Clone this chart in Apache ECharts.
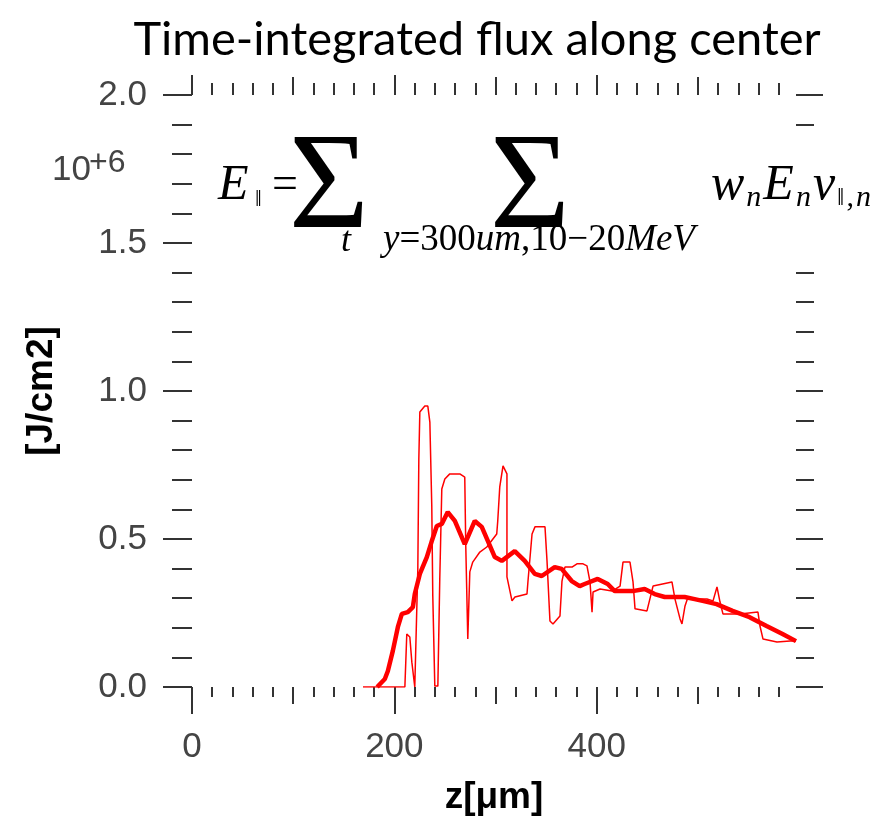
<!DOCTYPE html>
<html><head><meta charset="utf-8">
<script src="https://cdn.jsdelivr.net/npm/echarts@6/dist/echarts.min.js"></script>
<style>html,body{margin:0;padding:0;background:#fff}#c{width:876px;height:821px}</style>
</head><body><div id="c"></div>
<script>
// ---- data ----
const xMajorTicks = [0, 200, 400];
const xMidTicks = [100, 300, 500];
const xMinorTicks = [20,40,60,80,120,140,160,180,220,240,260,280,320,340,360,380,420,440,460,480,520,540,560,580];

const thinZ = [169,210.4,212.3,215.3,217.3,220.2,223.2,224.2,225.2,230.1,233.1,235.1,237,238,240,243,244.9,246.9,249.9,254.8,264.7,269.6,270.6,272.6,274.6,277.5,284.5,291.4,301.2,302.2,304.2,307.4,311.3,311.3,316.3,319.2,331.1,332.1,336.1,339,348.9,350.9,353.8,356.8,363.7,365.7,368.6,375.6,380.5,386.5,390.4,393.4,395.4,396.4,403.3,415.2,423.1,426,432.9,435.9,437.9,449.7,455.7,474.4,477.4,482.4,484.3,487.3,490.3,499.1,509,515,518.9,519.9,521.9,524.8,541.6,559.4,561.4,564.4,578.2,591.1,597];
const thinFlux = [0,0,0.179,0.169,0.084,0,0.399,0.770,0.929,0.949,0.949,0.895,0.611,0.307,0.003,0.003,0.365,0.669,0.703,0.720,0.720,0.709,0.476,0.162,0.389,0.422,0.456,0.473,0.517,0.561,0.676,0.747,0.720,0.372,0.291,0.304,0.314,0.358,0.517,0.541,0.541,0.426,0.223,0.213,0.240,0.358,0.405,0.405,0.416,0.416,0.409,0.355,0.253,0.321,0.331,0.324,0.341,0.422,0.422,0.355,0.264,0.257,0.341,0.355,0.297,0.230,0.213,0.274,0.304,0.297,0.297,0.291,0.338,0.341,0.287,0.247,0.247,0.253,0.206,0.162,0.152,0.155,0.155];

const thickZ = [183,190.6,193.6,198.5,203.5,207.4,213.3,218.3,220.2,225.2,232.1,237,242,246.9,252.8,259.8,269.6,279.5,286.4,299.3,306.2,319,328.9,338.8,345.7,358.5,365.4,375.3,383.2,388.1,401,410.9,417.8,435.6,447.4,457.3,467.2,486.9,496.8,504.7,518.5,534.3,551.1,567.9,583.7,597];
const thickFlux = [0,0.027,0.054,0.122,0.203,0.247,0.253,0.270,0.314,0.382,0.439,0.493,0.544,0.551,0.591,0.561,0.483,0.561,0.541,0.439,0.426,0.459,0.426,0.382,0.375,0.405,0.399,0.358,0.341,0.348,0.365,0.348,0.324,0.324,0.331,0.314,0.304,0.304,0.297,0.291,0.280,0.257,0.236,0.206,0.179,0.155];

const titleText = 'Time-integrated flux along center';
const xName = 'z[μm]';
const yName = '[J/cm2]';
const scaleText = ['10', '+6'];

// ---- chart ----
const chart = echarts.init(document.getElementById('c'), null, {renderer: 'canvas'});
const tickColor = '#333';
const XMIN = 0, XMAX = 597;

function xAx(pos, vals, len, withLabel) {
  return {
    type: 'value', position: pos, min: XMIN, max: XMAX,
    axisLine: {show: false, onZero: false}, splitLine: {show: false},
    axisTick: {show: true, customValues: vals, length: len, lineStyle: {color: tickColor, width: 2}},
    axisLabel: withLabel ? {show: true, customValues: vals, margin: 43, fontSize: 35, color: '#444', fontFamily: 'Liberation Sans'} : {show: false},
    name: withLabel ? xName : '', nameLocation: 'middle', nameGap: 92,
    nameTextStyle: {fontSize: 37, fontWeight: 'bold', color: '#000', fontFamily: 'Liberation Sans'}
  };
}
function yAx(pos, len, minorLen, withLabel) {
  return {
    type: 'value', position: pos, min: 0, max: 2, interval: 0.5,
    axisLine: {show: false, onZero: false}, splitLine: {show: false},
    axisTick: {show: true, length: len, lineStyle: {color: tickColor, width: 2}},
    minorTick: {show: true, splitNumber: 5, length: minorLen, lineStyle: {color: tickColor, width: 2}},
    axisLabel: withLabel ? {show: true, margin: 45, fontSize: 35, color: '#444', fontFamily: 'Liberation Sans', formatter: v => v.toFixed(1)} : {show: false},
    name: withLabel ? yName : '', nameLocation: 'middle', nameGap: 132,
    nameTextStyle: {fontSize: 37, fontWeight: 'bold', color: '#000', fontFamily: 'Liberation Sans'}
  };
}

// formula layout helper
const mctx = document.createElement('canvas').getContext('2d');
function mw(t, size, italic) { mctx.font = (italic ? 'italic ' : '') + size + 'px "Liberation Serif"'; return mctx.measureText(t).width; }
function txt(t, x, y, size, italic, align) {
  return {type: 'text', x: x, y: y, z: 101, silent: true, style: {text: t, fontSize: size, fontStyle: italic ? 'italic' : 'normal', fontFamily: 'Liberation Serif', fill: '#000', align: align || 'left', verticalAlign: 'middle'}};
}
const graphics = [];
// white backing of the pasted equation (hides the right-hand ticks behind it)
graphics.push({type: 'rect', z: 100, silent: true, shape: {x: 700, y: 140, width: 176, height: 118}, style: {fill: '#fff'}});
graphics.push({type: 'text', x: 477, y: 40, silent: true, style: {text: titleText, fontSize: 47, fontFamily: 'Lato', fill: '#000', align: 'center', verticalAlign: 'middle'}});
graphics.push({type: 'text', x: 52, y: 170, silent: true, style: {text: scaleText[0], fontSize: 35, fontFamily: 'Liberation Sans', fill: '#444', align: 'left', verticalAlign: 'middle'}});
graphics.push({type: 'text', x: 89, y: 163, silent: true, style: {text: scaleText[1], fontSize: 32, fontFamily: 'Liberation Sans', fill: '#444', align: 'left', verticalAlign: 'middle'}});
const FY = 186;
graphics.push(txt('E', 218, FY, 50, true));
graphics.push(txt('‖', 255, FY + 14, 24, false));
graphics.push(txt('=', 272, FY, 46, false));
graphics.push(txt('Σ', 329, FY + 5, 138, false, 'center'));
graphics.push(txt('t', 346, 242, 36, true, 'center'));
graphics.push(txt('Σ', 530, FY + 5, 138, false, 'center'));
graphics.push({type: 'text', x: 383, y: 240, z: 101, silent: true, style: {
  text: '{i|y}{r|=300}{i|um}{r|,10−20}{i|MeV}', verticalAlign: 'middle', align: 'left',
  rich: {i: {fontSize: 37, fontStyle: 'italic', fontFamily: 'Liberation Serif', fill: '#000'},
         r: {fontSize: 37, fontFamily: 'Liberation Serif', fill: '#000'}}}});
// w_n E_n v_{||,n}
(function () {
  const parts = [
    {t: 'w', s: 50, i: true, dy: 0}, {t: 'n', s: 30, i: true, dy: 12},
    {t: 'E', s: 50, i: true, dy: 0}, {t: 'n', s: 30, i: true, dy: 12},
    {t: 'v', s: 50, i: true, dy: 0}, {t: '‖', s: 26, i: false, dy: 12}, {t: ',', s: 30, i: false, dy: 12}, {t: 'n', s: 30, i: true, dy: 12}
  ];
  let x = 711;
  parts.forEach(p => { graphics.push(txt(p.t, x, FY + p.dy, p.s, p.i)); x += mw(p.t, p.s, p.i) + 2; });
})();

const option = {
  backgroundColor: '#fff',
  animation: false,
  grid: {left: 192, right: 80, top: 95, bottom: 133, containLabel: false},
  xAxis: [
    xAx('bottom', xMajorTicks, 27, true),
    xAx('bottom', xMidTicks, 17, false),
    xAx('bottom', xMinorTicks, 10, false),
    xAx('top', xMajorTicks, 20, false),
    xAx('top', xMidTicks, 18, false),
    xAx('top', xMinorTicks, 12, false)
  ],
  yAxis: [
    yAx('left', 29, 20, true),
    yAx('right', 27, 18, false)
  ],
  series: [
    {type: 'line', xAxisIndex: 0, yAxisIndex: 0, showSymbol: false, symbol: 'none',
     data: thinZ.map((z, i) => [z, thinFlux[i]]), lineStyle: {color: '#ff0000', width: 1.5}},
    {type: 'line', xAxisIndex: 0, yAxisIndex: 0, showSymbol: false, symbol: 'none',
     data: thickZ.map((z, i) => [z, thickFlux[i]]), lineStyle: {color: '#ff0000', width: 4.5}}
  ],
  graphic: graphics
};
chart.setOption(option);
</script>
</body></html>
